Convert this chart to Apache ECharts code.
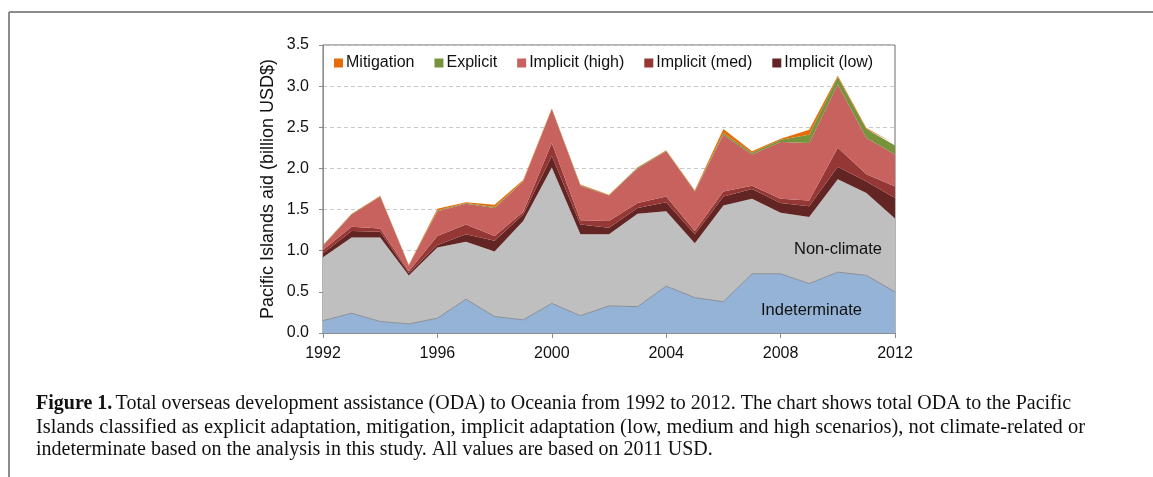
<!DOCTYPE html>
<html>
<head>
<meta charset="utf-8">
<script src="https://cdn.jsdelivr.net/npm/echarts@6/dist/echarts.min.js"></script>
<style>
  html, body { margin: 0; padding: 0; background: #fff; }
  #chart { width: 1153px; height: 477px; }
</style>
</head>
<body>
<div id="chart"></div>
<script>
var years = ['1992','1993','1994','1995','1996','1997','1998','1999','2000','2001','2002',
             '2003','2004','2005','2006','2007','2008','2009','2010','2011','2012'];

// billion USD, stacked bottom -> top
var indeterminate = [0.15,0.24,0.14,0.11,0.18,0.41,0.20,0.16,0.36,0.21,0.33,0.32,0.57,0.43,0.38,0.72,0.72,0.60,0.74,0.70,0.50];
var nonClimate    = [0.77,0.92,1.02,0.59,0.86,0.70,0.79,1.20,1.65,0.99,0.87,1.13,0.91,0.66,1.17,0.91,0.74,0.81,1.13,1.00,0.89];
var implicitLow   = [0.05,0.08,0.07,0.03,0.03,0.09,0.13,0.08,0.14,0.12,0.08,0.07,0.11,0.11,0.11,0.12,0.12,0.13,0.15,0.14,0.25];
var implicitMed   = [0.04,0.05,0.04,0.02,0.11,0.12,0.06,0.03,0.16,0.05,0.08,0.06,0.07,0.04,0.06,0.04,0.05,0.07,0.23,0.09,0.14];
var implicitHigh  = [0.05,0.15,0.39,0.07,0.30,0.25,0.34,0.37,0.41,0.42,0.31,0.42,0.55,0.48,0.69,0.38,0.69,0.70,0.77,0.44,0.39];
var explicit      = [0.005,0.005,0.003,0.005,0.01,0.01,0.01,0.005,0.005,0.01,0.005,0.01,0.005,0.01,0.02,0.02,0.03,0.10,0.09,0.11,0.11];
var mitigation    = [0.005,0.005,0.005,0.005,0.02,0.01,0.03,0.015,0.005,0.005,0.005,0.005,0.005,0.005,0.05,0.02,0.01,0.06,0.015,0.01,0.02];

var yTicks = [0, 0.5, 1.0, 1.5, 2.0, 2.5, 3.0, 3.5];

var font = 'Liberation Sans, Arial, sans-serif';
var serif = 'Liberation Serif, Times New Roman, serif';

function area(name, data, color, lineColor) {
  return {
    name: name,
    type: 'line',
    stack: 'aid',
    data: data,
    showSymbol: false,
    silent: true,
    lineStyle: { width: lineColor ? 1 : 0, color: lineColor || color },
    itemStyle: { color: color },
    areaStyle: { color: color, opacity: 1 }
  };
}

var chart = echarts.init(document.getElementById('chart'), null, { renderer: 'canvas' });

chart.setOption({
  animation: false,
  backgroundColor: '#fff',
  grid: { left: 323, right: 258, top: 45, bottom: 144, show: true, borderColor: '#6b6b6b', borderWidth: 1 },
  legend: {
    data: ['Mitigation', 'Explicit', 'Implicit (high)', 'Implicit (med)', 'Implicit (low)'],
    left: 329, top: 50,
    itemWidth: 9, itemHeight: 9, itemGap: 20,
    icon: 'rect',
    textStyle: { fontFamily: font, fontSize: 16, color: '#111', padding: [0, 0, 0, -2] }
  },
  xAxis: {
    type: 'category',
    data: years,
    boundaryGap: false,
    axisLine: { lineStyle: { color: '#8c8c8c', width: 1 } },
    axisTick: { interval: 3, length: 5, lineStyle: { color: '#8c8c8c' } },
    axisLabel: { interval: 3, margin: 13, fontFamily: font, fontSize: 16, color: '#111' },
    splitLine: { show: false }
  },
  yAxis: {
    type: 'value',
    min: 0, max: 3.5, interval: 0.5,
    name: 'Pacific Islands aid (billion USD$)',
    nameLocation: 'middle',
    nameGap: 46,
    nameTextStyle: { fontFamily: font, fontSize: 18, color: '#111' },
    axisLine: { show: true, lineStyle: { color: '#8c8c8c' } },
    axisTick: { show: true, length: 4, lineStyle: { color: '#8c8c8c' } },
    axisLabel: {
      margin: 14, fontFamily: font, fontSize: 16, color: '#111',
      formatter: function (v) { return yTicks.indexOf(v) >= 0 ? v.toFixed(1) : ''; }
    },
    splitLine: { show: true, lineStyle: { color: '#c8c8c8', type: [4, 3] } }
  },
  series: [
    area('Indeterminate', indeterminate, '#95B3D7', '#8a8f96'),
    area('Non-climate', nonClimate, '#BFBFBF'),
    area('Implicit (low)', implicitLow, '#632523'),
    area('Implicit (med)', implicitMed, '#953735'),
    area('Implicit (high)', implicitHigh, '#C8625F'),
    area('Explicit', explicit, '#77933C'),
    area('Mitigation', mitigation, '#E46C0A')
  ],
  graphic: [
    { type: 'line', z: 100, shape: { x1: 9, y1: 12, x2: 1153, y2: 12 }, style: { stroke: '#8c8c8c', lineWidth: 2 } },
    { type: 'line', z: 100, shape: { x1: 9, y1: 12, x2: 9, y2: 477 }, style: { stroke: '#8c8c8c', lineWidth: 2 } },
    { type: 'text', z: 100, left: 794, top: 241, style: { text: 'Non-climate', fontFamily: font, fontSize: 16.5, fill: '#111' } },
    { type: 'text', z: 100, left: 761, top: 302, style: { text: 'Indeterminate', fontFamily: font, fontSize: 16.5, fill: '#111' } },
    { type: 'text', z: 100, left: 36, top: 394, style: {
        rich: {
          b: { fontFamily: serif, fontSize: 20, fontWeight: 'bold', fill: '#111' },
          n: { fontFamily: serif, fontSize: 20, fill: '#111' }
        },
        text: '{b|Figure 1.} {n|Total overseas development assistance (ODA) to Oceania from 1992 to 2012. The chart shows total ODA to the Pacific}'
      } },
    { type: 'text', z: 100, left: 36, top: 417, style: { text: 'Islands classified as explicit adaptation, mitigation, implicit adaptation (low, medium and high scenarios), not climate-related or', fontFamily: serif, fontSize: 20.5, fill: '#111' } },
    { type: 'text', z: 100, left: 36, top: 440, style: { text: 'indeterminate based on the analysis in this study. All values are based on 2011 USD.', fontFamily: serif, fontSize: 20, fill: '#111' } }
  ]
});
</script>
</body>
</html>
